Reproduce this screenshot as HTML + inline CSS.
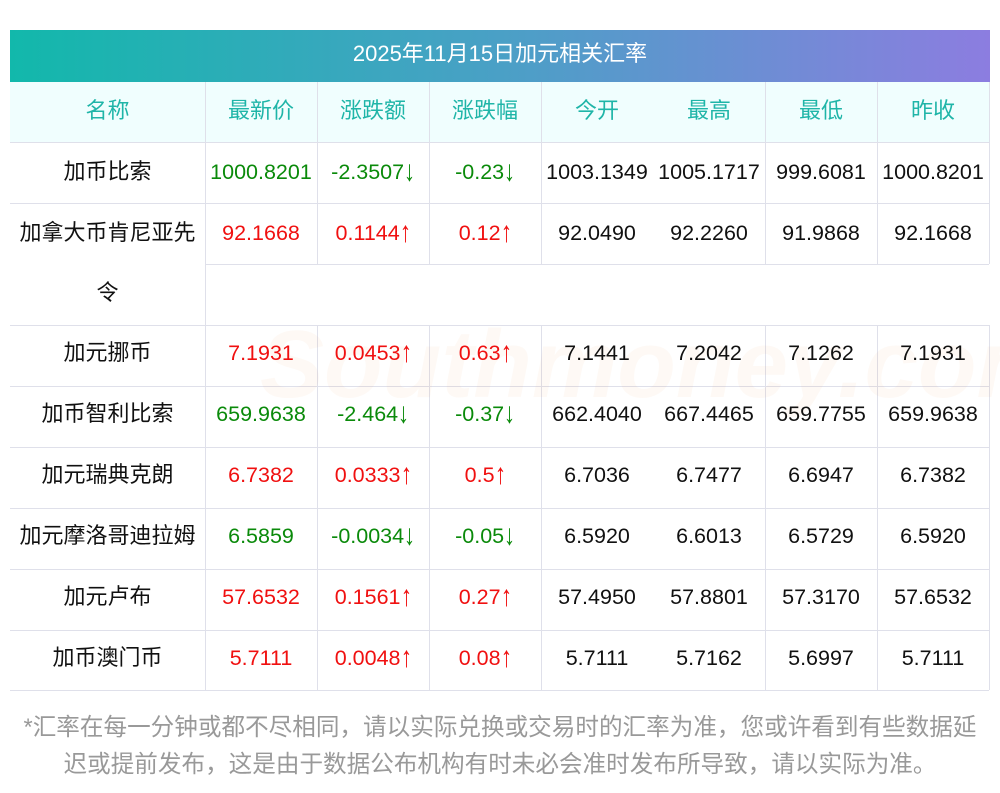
<!DOCTYPE html>
<html><head><meta charset="utf-8"><style>
body{margin:0;width:1000px;height:793px;background:#fff;position:relative;overflow:hidden;font-family:"Liberation Sans","Noto Sans CJK SC",sans-serif;}
.a{position:absolute}
.t{position:absolute;text-align:center;font-size:21.5px;line-height:24px;white-space:nowrap}
.t.k0{font-size:22px}
.h{color:#1fb5a8;font-size:22px}
.g{color:#0a8a0a}.r{color:#f01010}.k{color:#111}
.ar{display:inline-block;transform:scale(1.05,1.35);transform-origin:50% 60%}
.hl{position:absolute;left:10px;width:979px;height:1px;background:#dfe0ea}
.vl{position:absolute;width:1px;background:#dfe0ea}
</style></head><body>
<div class="a" style="left:10px;top:30px;width:980px;height:52px;background:linear-gradient(90deg,#12b8ab,#4aa0c6 50%,#8c7de0);"></div>
<div class="t" style="left:10px;width:980px;top:41px;color:#fff;font-size:22px;line-height:26px">2025年11月15日加元相关汇率</div>
<div class="a" style="left:10px;top:82px;width:979px;height:60px;background:#f0fefe"></div>
<div class="hl" style="top:142px"></div><div class="hl" style="top:203px"></div>
<div class="hl" style="top:264px;left:205px;width:784px"></div>
<div class="hl" style="top:325px"></div><div class="hl" style="top:386px"></div><div class="hl" style="top:447px"></div><div class="hl" style="top:508px"></div><div class="hl" style="top:569px"></div><div class="hl" style="top:630px"></div><div class="hl" style="top:690px"></div>
<div class="vl" style="left:205px;top:82px;height:608px"></div>
<div class="vl" style="left:317px;top:82px;height:182px"></div><div class="vl" style="left:317px;top:325px;height:365px"></div>
<div class="vl" style="left:429px;top:82px;height:182px"></div><div class="vl" style="left:429px;top:325px;height:365px"></div>
<div class="vl" style="left:541px;top:82px;height:182px"></div><div class="vl" style="left:541px;top:325px;height:365px"></div>
<div class="vl" style="left:765px;top:82px;height:182px"></div><div class="vl" style="left:765px;top:325px;height:365px"></div>
<div class="vl" style="left:877px;top:82px;height:182px"></div><div class="vl" style="left:877px;top:325px;height:365px"></div>
<div class="vl" style="left:989px;top:82px;height:182px"></div><div class="vl" style="left:989px;top:325px;height:365px"></div>
<div class="a" style="left:260px;top:310px;font-size:96px;color:rgba(240,160,90,0.06);font-weight:bold;white-space:nowrap;font-style:italic">Southmoney.com</div>
<div class="t" style="left:0;width:1000px;top:710px;color:#999;font-size:23.6px;line-height:37px">*汇率在每一分钟或都不尽相同，请以实际兑换或交易时的汇率为准，您或许看到有些数据延<br>迟或提前发布，这是由于数据公布机构有时未必会准时发布所导致，请以实际为准。</div>
<script>
var L=[10,205,317,429,541,653,765,877,989];
function cell(i,y,txt,cls){var d=document.createElement('div');d.className='t '+cls;d.style.left=L[i]+'px';d.style.width=(L[i+1]-L[i])+'px';d.style.top=(y-12)+'px';d.innerHTML=txt.replace(/([↑↓])/,'<span class="ar">$1</span>');document.body.appendChild(d);}
['名称','最新价','涨跌额','涨跌幅','今开','最高','最低','昨收'].forEach(function(s,i){cell(i,111,s,'h');});
var R=[
[172,'加币比索','1000.8201','-2.3507↓','-0.23↓','1003.1349','1005.1717','999.6081','1000.8201','g'],
[233,'加拿大币肯尼亚先','92.1668','0.1144↑','0.12↑','92.0490','92.2260','91.9868','92.1668','r'],
[353,'加元挪币','7.1931','0.0453↑','0.63↑','7.1441','7.2042','7.1262','7.1931','r'],
[414,'加币智利比索','659.9638','-2.464↓','-0.37↓','662.4040','667.4465','659.7755','659.9638','g'],
[475,'加元瑞典克朗','6.7382','0.0333↑','0.5↑','6.7036','6.7477','6.6947','6.7382','r'],
[536,'加元摩洛哥迪拉姆','6.5859','-0.0034↓','-0.05↓','6.5920','6.6013','6.5729','6.5920','g'],
[597,'加元卢布','57.6532','0.1561↑','0.27↑','57.4950','57.8801','57.3170','57.6532','r'],
[658,'加币澳门币','5.7111','0.0048↑','0.08↑','5.7111','5.7162','5.6997','5.7111','r']];
R.forEach(function(r){for(var i=0;i<8;i++){cell(i,r[0],r[i+1],(i>=1&&i<=3)?r[9]:(i==0?'k k0':'k'));}});
cell(0,293,'令','k k0');
</script>
</body></html>
